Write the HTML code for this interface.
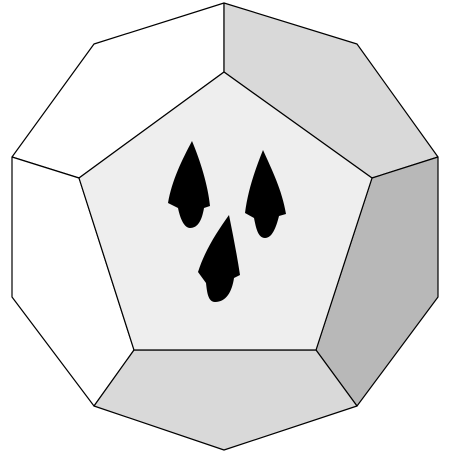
<!DOCTYPE html>
<html><head><meta charset="utf-8"><style>html,body{margin:0;padding:0;background:#fff}svg{display:block}</style></head>
<body>
<svg width="453" height="453" viewBox="0 0 453 453" stroke="#000" stroke-width="1.2" stroke-linejoin="round">
<g>
<polygon fill="#fff" points="224,3 94,44 12,157 79,178 224,72"/>
<polygon fill="#fff" points="12,157 12,297 94,406 134,350 79,178"/>
<polygon fill="#d9d9d9" points="224,3 357,44 438,157 372,178 224,72"/>
<polygon fill="#b8b8b8" points="438,157 438,297 357,406 316,350 372,178"/>
<polygon fill="#d9d9d9" points="357,406 224,450 94,406 134,350 316,350"/>
<polygon fill="#eeeeee" points="224,72 372,178 316,350 134,350 79,178"/>
</g>
<g fill="#000" stroke="none">
<path d="M192,141 C200,160 208,185 210,206 L204,208 C202,220 198,228 190,228 C184,228 180,218 178,208 L168,203 C172,180 182,160 192,141Z"/>
<path d="M263,150 C272,170 282,190 286,214 L279,216 C276,228 272,238 265,238 C258,238 256,228 254,218 L245,213 C248,190 255,170 263,150Z"/>
<path d="M229,215 C233,235 237,255 240,275 L234,278 C232,292 226,302 215,302 C208,302 207,292 206,283 L198,272 C205,250 217,232 229,215Z"/>
</g>
</svg>
</body></html>
